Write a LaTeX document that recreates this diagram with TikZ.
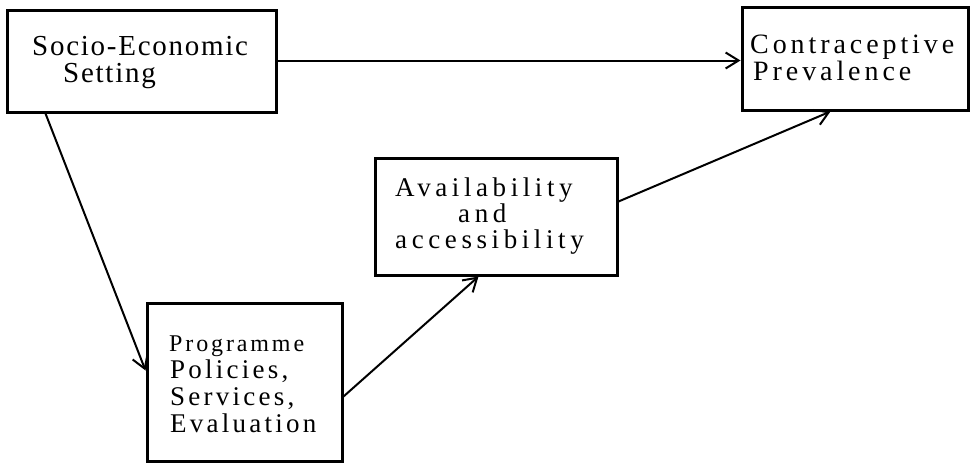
\documentclass[tikz,border=0pt]{standalone}
\usepackage{fontspec}
\setmainfont{Liberation Serif}
\newfontfamily\fsoc[LetterSpace=6]{Liberation Serif}
\newfontfamily\fcon[LetterSpace=14]{Liberation Serif}
\newfontfamily\fava[LetterSpace=17]{Liberation Serif}
\newfontfamily\fprg[LetterSpace=12]{Liberation Serif}
\newfontfamily\fpol[LetterSpace=12]{Liberation Serif}
\usetikzlibrary{arrows.meta,calc}
\begin{document}
\begin{tikzpicture}[x=1pt,y=-1pt,
  box/.style={draw, line width=3pt, inner sep=0pt},
  txt/.style={anchor=base west, inner sep=0pt},
  conn/.style={line width=2pt, -{Straight Barb[length=13pt,width=16pt,line width=2pt]}}]
\useasboundingbox[fill=white] (0,0) rectangle (977,464);
% boxes
\node[box, minimum width=269pt, minimum height=102pt] (soc) at (141.5,61) {};
\node[box, minimum width=226pt, minimum height=103pt] (con) at (855,58.5) {};
\node[box, minimum width=242pt, minimum height=117pt] (ava) at (496,216.5) {};
\node[box, minimum width=195pt, minimum height=158pt] (pro) at (244.5,382) {};
% texts
\node[txt] (t1) at (32,55) {\fsoc\fontsize{29}{30}\selectfont Socio-Economic};
\node[txt] (t2) at (63,82) {\fsoc\fontsize{29}{30}\selectfont Setting};
\node[txt] (t3) at (750,53) {\fcon\fontsize{28}{30}\selectfont Contraceptive};
\node[txt] (t4) at (753,80) {\fcon\fontsize{28}{30}\selectfont Prevalence};
\node[txt] (t5) at (395,196) {\fava\fontsize{27}{28}\selectfont Availability};
\node[txt] (t6) at (458,222) {\fava\fontsize{27}{28}\selectfont and};
\node[txt] (t7) at (395,248) {\fava\fontsize{27}{28}\selectfont accessibility};
\node[txt] (t8) at (169,351) {\fprg\fontsize{24}{26}\selectfont Programme};
\node[txt] (t9) at (170,378) {\fpol\fontsize{27}{28}\selectfont Policies,};
\node[txt] (t10) at (170,405) {\fpol\fontsize{27}{28}\selectfont Services,};
\node[txt] (t11) at (170,432) {\fpol\fontsize{27}{28}\selectfont Evaluation};
% connectors
\coordinate (h1) at ($(soc.north east)+(0,52)$);
\coordinate (h2) at (h1 -| con.west);
\draw[conn] (h1) -- (h2);
\draw[conn] ($(soc.south west)+(40,0)$) -- ($(pro.north west)+(0,69)$);
\draw[conn] ($(pro.north east)+(0,95)$) -- ($(ava.south west)+(105,0)$);
\draw[conn] ($(ava.north east)+(0,45)$) -- ($(con.south west)+(90,0)$);
\end{tikzpicture}
\end{document}
